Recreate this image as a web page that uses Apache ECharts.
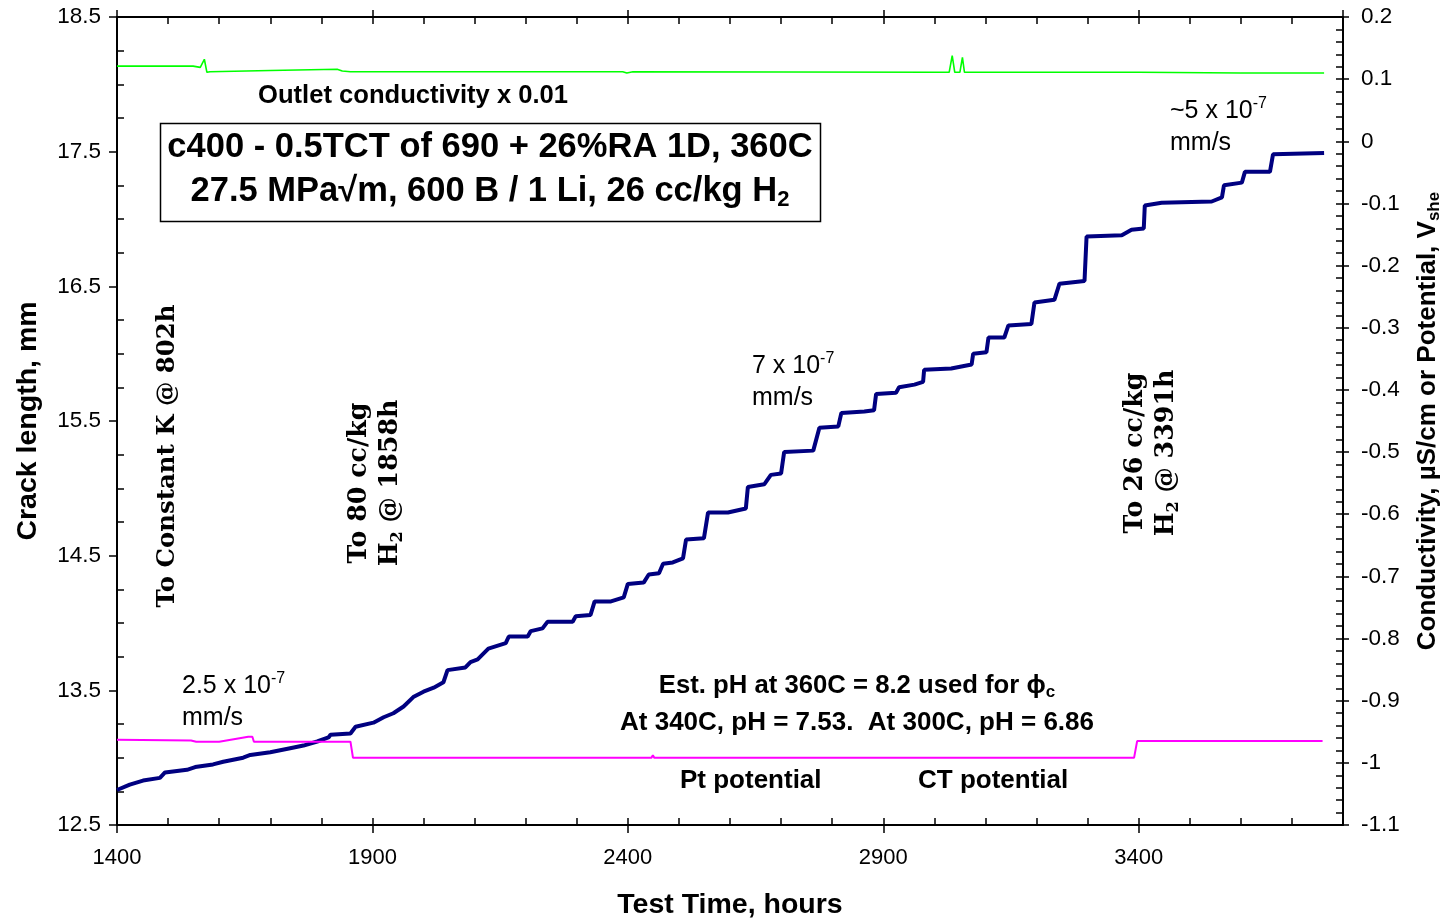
<!DOCTYPE html>
<html>
<head>
<meta charset="utf-8">
<script src="https://cdn.jsdelivr.net/npm/echarts@6/dist/echarts.min.js"></script>
<style>
  html, body { margin: 0; padding: 0; background: #fff; }
  #chart { width: 1443px; height: 918px; }
</style>
</head>
<body>
<div id="chart"></div>
<script>
// ---- Data ----
// Crack length, mm vs test time, hours (left axis)
const crackLength = [
  [1400,12.76],[1425,12.80],[1451,12.83],[1484,12.85],[1494,12.89],[1537,12.91],[1553,12.93],
  [1588,12.95],[1608,12.97],[1647,13.00],[1661,13.02],[1700,13.04],[1739,13.07],[1765,13.09],
  [1792,13.12],[1814,13.15],[1818,13.17],[1857,13.18],[1867,13.23],[1902,13.26],[1922,13.30],
  [1941,13.33],[1961,13.38],[1980,13.45],[2000,13.49],[2020,13.52],[2039,13.56],[2047,13.65],
  [2082,13.67],[2092,13.71],[2106,13.73],[2127,13.81],[2161,13.85],[2167,13.90],[2204,13.90],
  [2210,13.94],[2233,13.96],[2243,14.01],[2292,14.01],[2298,14.05],[2327,14.06],[2335,14.16],
  [2367,14.16],[2392,14.19],[2400,14.29],[2431,14.30],[2441,14.36],[2461,14.37],[2469,14.44],
  [2488,14.45],[2508,14.48],[2514,14.62],[2549,14.63],[2557,14.82],[2596,14.82],[2631,14.85],
  [2635,15.01],[2667,15.03],[2680,15.10],[2700,15.11],[2706,15.27],[2763,15.28],[2775,15.45],
  [2812,15.46],[2818,15.56],[2863,15.57],[2882,15.58],[2886,15.70],[2925,15.71],[2931,15.75],
  [2961,15.77],[2978,15.79],[2980,15.88],[3033,15.89],[3073,15.92],[3076,16.00],[3102,16.01],
  [3106,16.12],[3137,16.12],[3145,16.21],[3190,16.22],[3196,16.38],[3235,16.40],[3245,16.52],
  [3294,16.54],[3298,16.87],[3367,16.88],[3386,16.92],[3410,16.93],[3412,17.10],[3445,17.12],
  [3543,17.13],[3563,17.16],[3567,17.25],[3602,17.27],[3608,17.35],[3657,17.35],[3663,17.48],
  [3763,17.49]
];
// Outlet conductivity x 0.01 (right axis)
const outletConductivity = [
  [1400,0.121],[1500,0.121],[1549,0.121],[1563,0.119],[1571,0.132],[1576,0.111],[1582,0.112],
  [1700,0.114],[1831,0.116],[1841,0.113],[1857,0.112],[2000,0.112],[2390,0.112],[2398,0.110],
  [2410,0.112],[3000,0.111],[3029,0.111],[3035,0.138],[3040,0.111],[3050,0.111],[3055,0.135],
  [3059,0.111],[3400,0.111],[3600,0.110],[3763,0.110]
];
// Pt / CT potential, V_she (right axis)
const potential = [
  [1400,-0.963],[1545,-0.964],[1555,-0.966],[1600,-0.966],[1657,-0.958],[1665,-0.958],[1668,-0.966],
  [1857,-0.966],[1862,-0.992],[2000,-0.992],[2360,-0.992],[2363,-0.989],[2366,-0.992],[2446,-0.992],
  [2449,-0.988],[2452,-0.992],[2938,-0.992],[2941,-0.989],[2944,-0.992],[3391,-0.992],[3397,-0.965],
  [3600,-0.965],[3760,-0.965]
];
// Axis ranges / ticks
const xRange = [1400, 3800], xStep = 500;
const leftRange = [12.5, 18.5], leftStep = 1;
const rightRange = [-1.1, 0.2], rightStep = 0.1;

const SANS = '"Liberation Sans", Arial, Helvetica, sans-serif';
const SERIF = '"DejaVu Serif"';
const chart = echarts.init(document.getElementById('chart'), null, { renderer: 'canvas' });

const blk = '#000';
const hideAll = { axisLabel:{show:false}, splitLine:{show:false}, minorSplitLine:{show:false} };
const noLine = { show:false, onZero:false };

function xAx(extra) {
  return Object.assign({ type:'value', min:xRange[0], max:xRange[1], interval:xStep,
    splitLine:{show:false}, minorSplitLine:{show:false} }, extra);
}
function yAx(range, step, extra) {
  return Object.assign({ type:'value', min:range[0], max:range[1], interval:step,
    splitLine:{show:false}, minorSplitLine:{show:false} }, extra);
}
const tickLS = { color: blk, width: 1.5 };

const option = {
  animation: false,
  backgroundColor: '#fff',
  grid: { left: 117, right: 100, top: 17, bottom: 93, containLabel: false, outerBoundsMode: 'none' },
  xAxis: [
    xAx({ position:'bottom',
      axisLine:{ show:true, onZero:false, lineStyle:{ color:blk, width:2 } },
      axisTick:{ show:true, inside:false, length:8, lineStyle:tickLS },
      minorTick:{ show:false },
      axisLabel:{ show:true, showMaxLabel:false, color:blk, fontSize:22, fontFamily:SANS, margin:22, formatter: v => String(Math.round(v)) },
      name:'Test Time, hours', nameLocation:'middle', nameGap:66,
      nameTextStyle:{ color:blk, fontSize:28.5, fontWeight:'bold', fontFamily:SANS } }),
    xAx(Object.assign({ position:'bottom', axisLine:noLine,
      axisTick:{ show:true, inside:true, length:7, lineStyle:tickLS },
      minorTick:{ show:true, splitNumber:5, length:7, lineStyle:tickLS } }, hideAll)),
    xAx({ position:'top',
      axisLine:{ show:true, onZero:false, lineStyle:{ color:blk, width:2 } },
      axisTick:{ show:true, inside:true, length:7, lineStyle:tickLS },
      minorTick:{ show:true, splitNumber:5, length:7, lineStyle:tickLS },
      axisLabel:{ show:false } }),
    xAx(Object.assign({ position:'top', axisLine:noLine,
      axisTick:{ show:true, inside:false, length:7, lineStyle:tickLS },
      minorTick:{ show:false } }, hideAll))
  ],
  yAxis: [
    yAx(leftRange, leftStep, { position:'left',
      axisLine:{ show:true, onZero:false, lineStyle:{ color:blk, width:2 } },
      axisTick:{ show:true, inside:false, length:8, lineStyle:tickLS },
      minorTick:{ show:false },
      axisLabel:{ show:true, color:blk, fontSize:22.5, fontFamily:SANS, margin:16, formatter: v => v.toFixed(1) },
      name:'Crack length, mm', nameLocation:'middle', nameGap:74,
      nameTextStyle:{ color:blk, fontSize:28.5, fontWeight:'bold', fontFamily:SANS } }),
    yAx(leftRange, leftStep, Object.assign({ position:'left', axisLine:noLine,
      axisTick:{ show:false, inside:true },
      minorTick:{ show:true, splitNumber:4, length:7, lineStyle:tickLS } }, hideAll)),
    yAx(rightRange, rightStep, { position:'right',
      axisLine:{ show:true, onZero:false, lineStyle:{ color:blk, width:2 } },
      axisTick:{ show:true, inside:false, length:6, lineStyle:tickLS },
      minorTick:{ show:false },
      axisLabel:{ show:true, color:blk, fontSize:22.5, fontFamily:SANS, margin:18,
        formatter: v => String(Math.round(v * 10) / 10) },
      name:'{t|Conductivity, µS/cm or Potential, V}{s|she}', nameLocation:'middle', nameGap:70,
      nameTextStyle:{ color:blk, fontSize:26, fontWeight:'bold', fontFamily:SANS,
        rich:{ t:{ fontSize:26, fontWeight:'bold', fontFamily:SANS, color:blk, lineHeight:30 },
               s:{ fontSize:17, fontWeight:'bold', fontFamily:SANS, color:blk, verticalAlign:'bottom', lineHeight:30 } } } }),
    yAx(rightRange, rightStep, Object.assign({ position:'right', axisLine:noLine,
      axisTick:{ show:true, inside:true, length:7, lineStyle:tickLS },
      minorTick:{ show:true, splitNumber:5, length:7, lineStyle:tickLS } }, hideAll))
  ],
  series: [
    { name:'Crack length', type:'line', xAxisIndex:0, yAxisIndex:0, data:crackLength,
      showSymbol:false, symbol:'none', lineStyle:{ color:'#000080', width:4 }, z:3 },
    { name:'Outlet conductivity', type:'line', xAxisIndex:0, yAxisIndex:2, data:outletConductivity,
      showSymbol:false, symbol:'none', lineStyle:{ color:'#00ff00', width:1.6 }, z:2 },
    { name:'Potential', type:'line', xAxisIndex:0, yAxisIndex:2, data:potential,
      showSymbol:false, symbol:'none', lineStyle:{ color:'#ff00ff', width:2 }, z:4 }
  ],
  graphic: []
};

// ---- Annotations ----
const R = (sz, w) => ({ fontSize:sz, fontWeight:w || 'normal', fontFamily:SANS, fill:blk, lineHeight:30 });
const supStyle = { fontSize:16, fontFamily:SANS, fill:blk, verticalAlign:'top', lineHeight:14 };
function rateText(x, y, lead) {
  return [
    { type:'text', x:x, y:y, z:50, style:{ text:'{a|' + lead + '}{p|-7}', textAlign:'left', textVerticalAlign:'middle',
      rich:{ a:R(25), p:supStyle } } },
    { type:'text', x:x, y:y + 32, z:50, style:{ text:'mm/s', font:'25px ' + SANS, fill:blk, textAlign:'left', textVerticalAlign:'middle' } }
  ];
}
const g = option.graphic;
g.push(...rateText(1170, 111, '~5 x 10'));
g.push(...rateText(752, 366, '7 x 10'));
g.push(...rateText(182, 686, '2.5 x 10'));

const B26 = 'bold 26px ' + SANS;
g.push({ type:'text', x:258, y:96, z:50, style:{ text:'Outlet conductivity x 0.01', font:'bold 25.6px ' + SANS, fill:blk, textAlign:'left', textVerticalAlign:'middle' } });
g.push({ type:'rect', z:40, shape:{ x:160.5, y:123.5, width:660, height:98 }, style:{ fill:'#fff', stroke:blk, lineWidth:1.5 } });
g.push({ type:'text', x:490, y:147, z:50, style:{ text:'c400 - 0.5TCT of 690 + 26%RA 1D, 360C', font:'bold 34.5px ' + SANS, fill:blk, textAlign:'center', textVerticalAlign:'middle' } });
g.push({ type:'text', x:490, y:191, z:50, style:{ text:'{a|27.5 MPa\u221Am, 600 B / 1 Li, 26 cc/kg H}{b|2}', textAlign:'center', textVerticalAlign:'middle',
  rich:{ a:{ fontSize:34.5, fontWeight:'bold', fontFamily:SANS, fill:blk, lineHeight:40 }, b:{ fontSize:22, fontWeight:'bold', fontFamily:SANS, fill:blk, verticalAlign:'bottom', lineHeight:30 } } } });

g.push({ type:'text', x:857, y:686, z:50, style:{ text:'{a|Est. pH at 360C = 8.2 used for \u03D5}{b|c}', textAlign:'center', textVerticalAlign:'middle',
  rich:{ a:{ fontSize:25.7, fontWeight:'bold', fontFamily:SANS, fill:blk, lineHeight:30 }, b:{ fontSize:17, fontWeight:'bold', fontFamily:SANS, fill:blk, verticalAlign:'bottom', lineHeight:22 } } } });
g.push({ type:'text', x:857, y:723, z:50, style:{ text:'At 340C, pH = 7.53.  At 300C, pH = 6.86', font:B26, fill:blk, textAlign:'center', textVerticalAlign:'middle' } });
g.push({ type:'text', x:680, y:781, z:50, style:{ text:'Pt potential', font:B26, fill:blk, textAlign:'left', textVerticalAlign:'middle' } });
g.push({ type:'text', x:918, y:781, z:50, style:{ text:'CT potential', font:B26, fill:blk, textAlign:'left', textVerticalAlign:'middle' } });

const serifRich = (sz) => ({
  a:{ fontSize:sz, fontWeight:'bold', fontFamily:SERIF, fill:blk, lineHeight:31 },
  s:{ fontSize:Math.round(sz * 0.62), fontWeight:'bold', fontFamily:SERIF, fill:blk, verticalAlign:'bottom', lineHeight:25 }
});
g.push({ type:'text', x:168, y:456, rotation:Math.PI/2, z:50, style:{ text:'{a|To Constant K @ 802h}', textAlign:'center', textVerticalAlign:'middle', rich:serifRich(24.4) } });
g.push({ type:'text', x:375, y:483, rotation:Math.PI/2, z:50, style:{ text:'{a|To 80 cc/kg}\n{a|H}{s|2}{a| @ 1858h}', textAlign:'center', textVerticalAlign:'middle', rich:serifRich(25.3) } });
g.push({ type:'text', x:1151, y:453, rotation:Math.PI/2, z:50, style:{ text:'{a|To 26 cc/kg}\n{a|H}{s|2}{a| @ 3391h}', textAlign:'center', textVerticalAlign:'middle', rich:serifRich(25.3) } });

chart.setOption(option);
</script>
</body>
</html>
